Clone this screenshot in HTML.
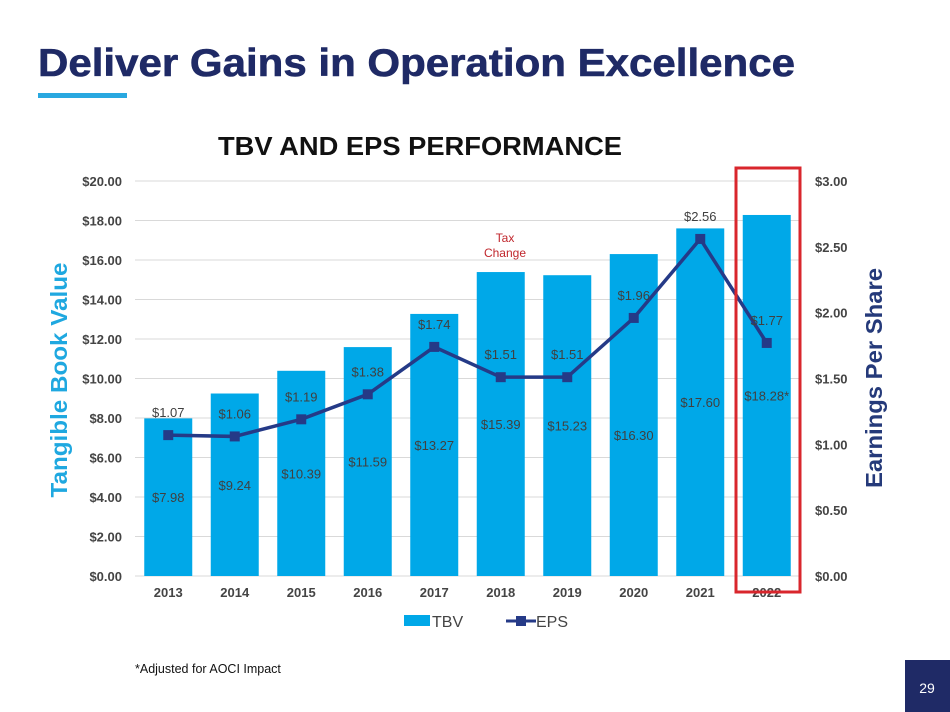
<!DOCTYPE html>
<html><head><meta charset="utf-8"><style>
html,body{margin:0;padding:0;background:#fff;width:950px;height:712px;overflow:hidden}
svg{display:block;font-family:"Liberation Sans",Arial,sans-serif}
</style></head><body>
<svg id="chart" width="950" height="712" viewBox="0 0 950 712">
<text x="38" y="76" font-size="39" font-weight="bold" fill="#1f2a66" stroke="#1f2a66" stroke-width="0.6" textLength="757" lengthAdjust="spacingAndGlyphs">Deliver Gains in Operation Excellence</text>
<rect x="38" y="93" width="89" height="5" fill="#29a8e0"/>
<text x="420" y="155" font-size="26" font-weight="bold" fill="#111" text-anchor="middle" textLength="404" lengthAdjust="spacingAndGlyphs">TBV AND EPS PERFORMANCE</text>
<g id="grid"></g><g id="bars"></g><g id="line"></g><g id="labels"></g>
<text transform="translate(67,380) rotate(-90)" font-size="23" font-weight="bold" fill="#1fa8e0" text-anchor="middle" textLength="235" lengthAdjust="spacingAndGlyphs">Tangible Book Value</text>
<text transform="translate(882,378) rotate(-90)" font-size="23" font-weight="bold" fill="#253a7a" text-anchor="middle" textLength="220" lengthAdjust="spacingAndGlyphs">Earnings Per Share</text>
<text x="505" y="242" font-size="12" fill="#c0272d" text-anchor="middle"><tspan x="505">Tax</tspan><tspan x="505" dy="15">Change</tspan></text>
<rect x="736" y="168" width="64" height="424" fill="none" stroke="#d9262c" stroke-width="3"/>
<g>
<rect x="404" y="615" width="26" height="11" fill="#00a8e8"/>
<text x="432" y="627" font-size="16" fill="#444">TBV</text>
<line x1="506" y1="621" x2="536" y2="621" stroke="#253a87" stroke-width="3"/>
<rect x="516" y="616" width="10" height="10" fill="#253a87"/>
<text x="536" y="627" font-size="16" fill="#444">EPS</text>
</g>
<text x="135" y="673" font-size="12.5" fill="#111">*Adjusted for AOCI Impact</text>
<rect x="905" y="660" width="45" height="52" fill="#1f2a66"/>
<text x="927" y="693" font-size="14" fill="#fff" text-anchor="middle">29</text>
</svg>
<script>
const categories=["2013","2014","2015","2016","2017","2018","2019","2020","2021","2022"];
const tbvValues=[7.98,9.24,10.39,11.59,13.27,15.39,15.23,16.30,17.60,18.28];
const tbvLabels=["$7.98","$9.24","$10.39","$11.59","$13.27","$15.39","$15.23","$16.30","$17.60","$18.28*"];
const epsValues=[1.07,1.06,1.19,1.38,1.74,1.51,1.51,1.96,2.56,1.77];
const epsLabels=["$1.07","$1.06","$1.19","$1.38","$1.74","$1.51","$1.51","$1.96","$2.56","$1.77"];
const leftTicks=[0,2,4,6,8,10,12,14,16,18,20];
const rightTicks=[0,0.5,1,1.5,2,2.5,3];
const NS="http://www.w3.org/2000/svg";
const X0=135,X1=800,Y0=576,Y1=181;
const slot=(X1-X0)/categories.length;
const xc=i=>X0+slot*(i+0.5);
const yL=v=>Y0-(v/20)*(Y0-Y1);
const yR=v=>Y0-(v/3)*(Y0-Y1);
function mk(tag,attrs,parent,txt){const e=document.createElementNS(NS,tag);for(const k in attrs)e.setAttribute(k,attrs[k]);if(txt!=null)e.textContent=txt;document.getElementById(parent).appendChild(e);return e;}
leftTicks.forEach(t=>{
  const l=mk("line",{x1:X0,x2:X1,y1:yL(t),y2:yL(t),stroke:"#d9d9d9","stroke-width":1},"grid");
  
  
  const tx=mk("text",{x:122,y:yL(t)+5,"font-size":13,"font-weight":"bold",fill:"#444","text-anchor":"end"},"grid","$"+t.toFixed(2));
  
  
});
rightTicks.forEach(t=>{
  const tx=mk("text",{x:815,y:yR(t)+5,"font-size":13,"font-weight":"bold",fill:"#444"},"grid","$"+t.toFixed(2));
  
  
});
const bw=48;
categories.forEach((c,i)=>{
  const b=mk("rect",{x:xc(i)-bw/2,y:yL(tbvValues[i]),width:bw,height:Y0-yL(tbvValues[i]),fill:"#00a8e8"},"bars");
  
  
  const cl=mk("text",{x:xc(i),y:597,"font-size":13,"font-weight":"bold",fill:"#444","text-anchor":"middle"},"labels",c);
  
  
  let ly=(yL(tbvValues[i])+Y0)/2+5;
  if(c==="2020")ly+=20;
  const tl=mk("text",{x:xc(i),y:ly,"font-size":13,fill:"#404040","text-anchor":"middle"},"labels",tbvLabels[i]);
  
  
});
const pts=epsValues.map((v,i)=>xc(i)+","+yR(v)).join(" ");
const pl=mk("polyline",{points:pts,fill:"none",stroke:"#253a87","stroke-width":3.5},"line");


epsValues.forEach((v,i)=>{
  const m=mk("rect",{x:xc(i)-5,y:yR(v)-5,width:10,height:10,fill:"#253a87"},"line");
  
  
  const el=mk("text",{x:xc(i),y:yR(v)-18,"font-size":13,fill:"#404040","text-anchor":"middle"},"labels",epsLabels[i]);
  
  
});
</script>
</body></html>
